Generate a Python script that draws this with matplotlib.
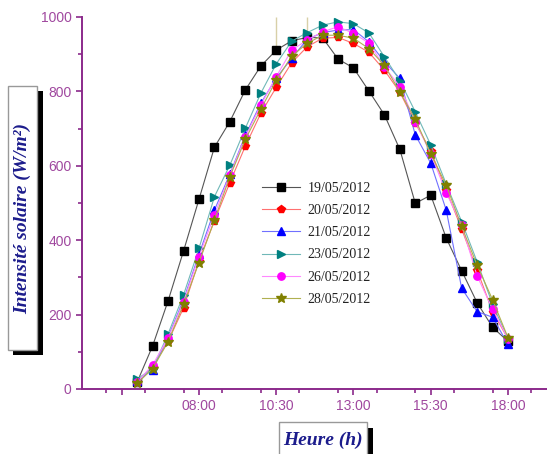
import matplotlib
matplotlib.use('Agg')
import matplotlib.pyplot as plt
from matplotlib.patches import Rectangle
from matplotlib.ticker import FixedLocator, MultipleLocator

# ==================== 数据 ====================
hours = [6.0, 6.5, 7.0, 7.5, 8.0, 8.5, 9.0, 9.5, 10.0, 10.5, 11.0, 11.5, 12.0,
         12.5, 13.0, 13.5, 14.0, 14.5, 15.0, 15.5, 16.0, 16.5, 17.0, 17.5, 18.0]

d19 = [19, 116, 237, 371, 510, 650, 719, 804, 868, 911, 936, 945, 944,
       887, 863, 801, 737, 644, 499, 521, 406, 318, 232, 166, 128]
d20 = [18, 60, 128, 218, 345, 452, 555, 653, 741, 811, 877, 920, 943,
       945, 929, 905, 857, 798, 715, 640, 535, 430, 320, 208, 135]
d21 = [22, 52, 140, 240, 362, 481, 578, 682, 768, 836, 889, 940, 958,
       965, 966, 933, 880, 835, 683, 607, 481, 271, 208, 193, 120]
d23 = [27, 55, 148, 253, 378, 517, 602, 701, 795, 874, 935, 958, 978,
       987, 982, 957, 893, 829, 745, 656, 551, 450, 342, 228, 135]
d26 = [18, 65, 137, 235, 356, 468, 575, 678, 763, 840, 911, 938, 960,
       974, 956, 930, 866, 813, 719, 632, 528, 441, 304, 215, 135]
d28 = [15, 55, 127, 228, 340, 454, 571, 671, 752, 830, 895, 929, 951,
       951, 943, 915, 870, 799, 725, 632, 548, 437, 333, 240, 138]

labels = ['19/05/2012', '20/05/2012', '21/05/2012', '23/05/2012', '26/05/2012', '28/05/2012']

xticks = [5.5, 8.0, 10.5, 13.0, 15.5, 18.0]
xticklabels = ['', '08:00', '10:30', '13:00', '15:30', '18:00']

# ==================== 样式 ====================
series = [
    (d19, 's', '#000000', '#555555'),
    (d20, 'p', '#ff0000', '#ff7070'),
    (d21, '^', '#0000ff', '#7070ff'),
    (d23, '>', '#008080', '#70b8b8'),
    (d26, 'o', '#ff00ff', '#ff88ff'),
    (d28, '*', '#808000', '#b0b050'),
]
axis_col = '#8b2a8b'
tick_col = '#a0489f'
label_col = '#1c1c8c'

W, H = 547, 454
fig = plt.figure(figsize=(W / 100, H / 100), dpi=100, facecolor='white')

# 背景层：标签框（像素坐标）
bg = fig.add_axes([0, 0, 1, 1])
bg.set_xlim(0, W)
bg.set_ylim(H, 0)
bg.axis('off')

# y 轴标签框 + 阴影
bg.add_patch(Rectangle((13, 91), 30, 264, facecolor='black', edgecolor='none'))
bg.add_patch(Rectangle((8, 86), 29, 264, facecolor='white', edgecolor='#999999', lw=1))
bg.text(22.5, 218, 'Intensité solaire (W/m²)', rotation=90, ha='center', va='center',
        family='Liberation Serif', style='italic', weight='bold', fontsize=14, color=label_col)

# x 轴标签框 + 阴影
bg.add_patch(Rectangle((285, 428), 88, 40, facecolor='black', edgecolor='none'))
bg.add_patch(Rectangle((279, 422), 88, 40, facecolor='white', edgecolor='#999999', lw=1))
bg.text(323, 440, 'Heure (h)', ha='center', va='center',
        family='Liberation Serif', style='italic', weight='bold', fontsize=14, color=label_col)

# ==================== 主图 ====================
ax = fig.add_axes([82 / W, (H - 389) / H, 1 - 82 / W, (389 - 17) / H])
ax.patch.set_alpha(0)

for (vals, mk, mc, lc), lab in zip(series, labels):
    ax.plot(hours, vals, color=lc, lw=0.8, marker=mk, markersize=5.3 if mk != '*' else 7,
            markerfacecolor=mc, markeredgecolor=mc, label=lab, clip_on=False)

# 顶部细竖线
ax.vlines(hours[9], d19[9], 1000, color='#d8d0a8', lw=1, zorder=0)
ax.vlines(hours[11], d23[11], 1000, color='#d8d0a8', lw=1, zorder=0)

ax.set_xlim(4.214, 19.262)
ax.set_ylim(0, 1000)

for s in ['top', 'right']:
    ax.spines[s].set_visible(False)
for s in ['left', 'bottom']:
    ax.spines[s].set_color(axis_col)
    ax.spines[s].set_linewidth(1.4)

ax.xaxis.set_major_locator(FixedLocator(xticks))
ax.set_xticklabels(xticklabels)
ax.xaxis.set_minor_locator(MultipleLocator(1.25))
ax.yaxis.set_major_locator(MultipleLocator(200))
ax.yaxis.set_minor_locator(MultipleLocator(100))

ax.tick_params(which='major', length=4.5, width=1.2, color=axis_col, labelcolor=tick_col,
               labelsize=10, pad=3)
ax.tick_params(which='minor', length=3, width=1.2, color=axis_col)
for t in ax.get_xticklabels() + ax.get_yticklabels():
    t.set_family('Liberation Sans')

leg = ax.legend(loc='upper left', bbox_to_anchor=(262 / W, 1 - 182 / H),
                bbox_transform=fig.transFigure, frameon=False,
                prop={'family': 'Liberation Serif', 'size': 10},
                handlelength=2.7, handletextpad=0.6, labelspacing=0.66,
                borderaxespad=0, borderpad=0)
for t in leg.get_texts():
    t.set_color('#222222')

plt.savefig('out.png', dpi=100, facecolor='white')
